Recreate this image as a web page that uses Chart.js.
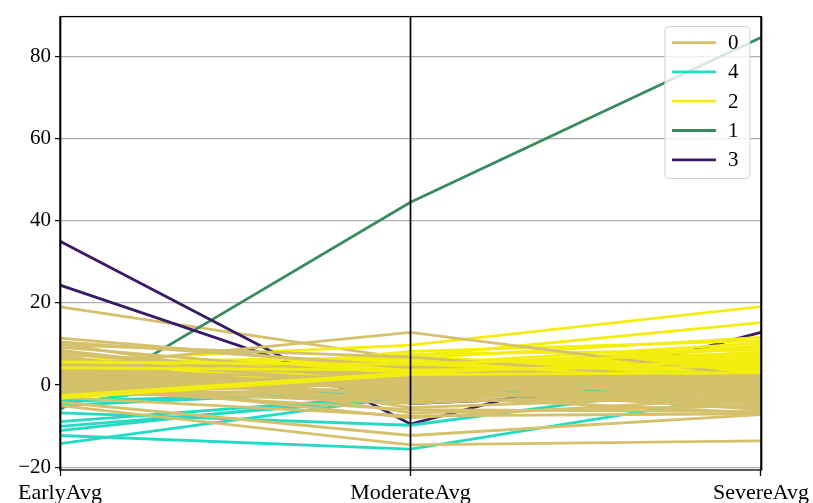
<!DOCTYPE html>
<html>
<head>
<meta charset="utf-8">
<script src="https://cdn.jsdelivr.net/npm/chart.js@4/dist/chart.umd.min.js"></script>
<style>
    body { margin: 0; background: #fff; }
    #wrap { width: 813px; height: 503px; }
</style>
</head>
<body>
<div id="wrap"><canvas id="chart" width="813" height="503"></canvas></div>
<script>
// Parallel coordinates: one row per line
const axisLabels = ['EarlyAvg', 'ModerateAvg', 'SevereAvg'];
const yTicks = [-20, 0, 20, 40, 60, 80];

// legend order = order of first appearance
const classNames = ['0', '4', '2', '1', '3'];
const classColors = ['#d5c06b', '#22dbc3', '#f4ee10', '#3a8b5e', '#3b1a65'];

const rowClass = [
    '0', '4', '2', '1', '3', '3',
    '4', '4', '4', '4', '4', '4', '4', '4', '4',
    '2', '2', '2', '2', '2', '2', '2', '2', '2', '2', '2', '2', '2', '2', '2', '2', '2',
    '2', '2', '2', '2', '2', '2', '2', '2',
    '0', '0', '0', '0', '0', '0', '0', '0', '0', '0', '0', '0', '0', '0', '0', '0', '0',
    '0', '0', '0', '0', '0', '0', '0', '0', '0', '0', '0', '0', '0', '0', '0', '0',
    '0', '0', '0', '0', '0', '0', '0', '0', '0', '0',
    '2', '2', '2', '2'
];
const earlyAvg = [
    19.0, -12.3, 5.8, -6.0, 35.0, 24.3,
    -6.8, -14.3, -11.1, -10.1, -8.9, -4.6, -4.0, -5.0, -3.8,
    4.5, 3.0, -2.5, 6.0, 1.0, -1.5, 2.0, -3.0, 0.5, 3.5, -2.0, 1.5, 4.0, -0.5, 2.5, 5.0, -2.8,
    0.2, 3.8, -1.2, 2.8, -2.2, 5.5, 1.2, -0.8,
    11.4, 10.5, 10.0, 9.2, 8.5, 8.0, 4.4, 7.2, 6.5, 5.5, 5.0, 4.0, 3.5, 3.0, 2.5, 2.0, 1.5,
    1.0, 0.5, 0.0, -0.5, -1.0, -1.5, -2.0, -2.5, -3.0, -4.2, -5.0, 0.8, 6.0, 9.8, -1.2, 2.8,
    7.5, 3.2, -0.2, 1.8, -1.8, 4.8, 0.3, -2.2, 2.2, -0.8,
    5.6, -2.6, 4.2, -3.2
];
const moderateAvg = [
    6.3, -15.6, 9.7, 44.5, -9.5, -4.5,
    -9.8, -2.8, -2.0, -3.2, -2.5, 6.3, -1.6, -1.0, -2.2,
    7.0, 6.5, 5.0, 4.0, 3.5, 2.5, 6.0, 2.7, 4.5, 2.9, 5.5, 3.0, 3.2, 7.5, 2.6, 3.8, 2.8,
    8.2, 4.2, 3.2, 5.2, 2.6, 6.8, 2.4, 4.8,
    4.1, 4.5, -3.0, 2.0, -1.5, 1.0, 12.8, -5.5, 0.0, -2.0, 2.5, -1.0, 1.5, -4.0, 0.5, -2.5, 1.0,
    -0.5, 1.5, -1.5, 0.0, -6.0, 2.0, -3.5, 1.0, -7.5, -12.3, -14.6, -8.0, -6.8, 6.8, -2.8, -1.0,
    1.8, -0.8, 1.2, -2.2, 0.8, -3.2, 2.2, -1.2, 0.3, -4.5,
    5.0, 3.0, 3.6, 2.5
];
const severeAvg = [
    1.0, -1.8, 19.1, 84.6, 12.8, -1.0,
    1.5, 0.5, -1.0, 2.0, -3.0, 2.0, 0.0, 4.5, 0.3,
    15.2, 11.6, 10.2, 9.0, 8.0, 7.0, 6.2, 5.5, 4.8, 4.0, 3.5, 3.0, 2.5, 8.5, 6.8, 5.8, 2.6,
    10.8, 9.5, 7.5, 6.5, 4.2, 3.2, 2.8, 5.2,
    -1.5, 0.5, -2.0, 2.2, -4.5, 1.5, 2.0, -2.5, -0.5, 1.0, -3.5, 0.0, -1.0, 2.1, -5.5, -2.0, 2.4,
    -6.0, -3.0, 0.8, -1.5, -6.5, -0.5, -4.0, 1.8, -7.0, -7.2, -13.6, -3.0, -5.0, 0.5, -6.8, 1.6,
    -1.8, 0.2, -2.8, 1.2, -4.8, -0.8, -5.8, 2.0, -3.8, -1.2,
    7.8, 6.0, 4.6, 3.0
];

const FONT = "'Liberation Serif', 'DejaVu Serif', serif";

function colorFor(cls) {
    return classColors[classNames.indexOf(cls)];
}

const datasets = rowClass.map((cls, i) => ({
    label: cls,
    data: [earlyAvg[i], moderateAvg[i], severeAvg[i]],
    borderColor: colorFor(cls),
    borderWidth: 2.8,
    pointRadius: 0,
    fill: false,
    tension: 0,
    order: -i  // later rows drawn on top
}));

// spines, vertical axis lines and the boxed legend
const framePlugin = {
    id: 'frame',
    afterDatasetsDraw(chart) {
        const ctx = chart.ctx;
        const area = chart.chartArea;
        const xScale = chart.scales.x;

        ctx.save();
        ctx.strokeStyle = '#000';
        ctx.lineWidth = 1.7;
        axisLabels.forEach((_, i) => {
            const x = Math.round(xScale.getPixelForTick(i)) + 0.5;
            ctx.beginPath();
            ctx.moveTo(x, area.top);
            ctx.lineTo(x, area.bottom);
            ctx.stroke();
        });
        ctx.lineWidth = 1.3;
        ctx.strokeRect(area.left, area.top, area.right - area.left, area.bottom - area.top);

        // legend
        const boxW = 85, boxH = 152;
        const bx = area.right - 11 - boxW;
        const by = area.top + 10;
        ctx.beginPath();
        ctx.roundRect(bx, by, boxW, boxH, 4);
        ctx.fillStyle = 'rgba(255,255,255,0.8)';
        ctx.fill();
        ctx.strokeStyle = '#d0d0d0';
        ctx.lineWidth = 1;
        ctx.stroke();

        ctx.font = '21px ' + FONT;
        ctx.textBaseline = 'middle';
        ctx.textAlign = 'left';
        classNames.forEach((name, i) => {
            const y = by + 16 + i * 29.3;
            ctx.strokeStyle = classColors[i];
            ctx.lineWidth = 2.8;
            ctx.beginPath();
            ctx.moveTo(bx + 7, y);
            ctx.lineTo(bx + 51, y);
            ctx.stroke();
            ctx.fillStyle = '#000';
            ctx.fillText(name, bx + 63, y + 1);
        });
        ctx.restore();
    }
};

new Chart(document.getElementById('chart'), {
    type: 'line',
    data: { labels: axisLabels, datasets: datasets },
    options: {
        responsive: false,
        animation: false,
        layout: { padding: { top: 14, right: 50, left: 0, bottom: 0 } },
        plugins: {
            legend: { display: false },
            tooltip: { enabled: false }
        },
        scales: {
            x: {
                type: 'category',
                offset: false,
                grid: { drawOnChartArea: false, drawTicks: true, tickLength: 6, color: '#000', tickWidth: 1.3 },
                border: { display: false },
                ticks: { color: '#000', font: { family: FONT, size: 22 }, padding: 4, maxRotation: 0, autoSkip: false },
                afterFit: (scale) => { scale.height = 33; }
            },
            y: {
                min: -20.7,
                max: 89.7,
                grid: { color: '#b0b0b0', lineWidth: 1.2, tickColor: '#000', tickLength: 5, tickWidth: 1.2 },
                border: { display: false },
                ticks: {
                    color: '#000',
                    font: { family: FONT, size: 21 },
                    padding: 4,
                    callback: (value) => String(value).replace('-', '\u2212')
                },
                afterBuildTicks: (scale) => { scale.ticks = yTicks.map(v => ({ value: v })); },
                afterFit: (scale) => { scale.width = 60; }
            }
        }
    },
    plugins: [framePlugin]
});
</script>
</body>
</html>
